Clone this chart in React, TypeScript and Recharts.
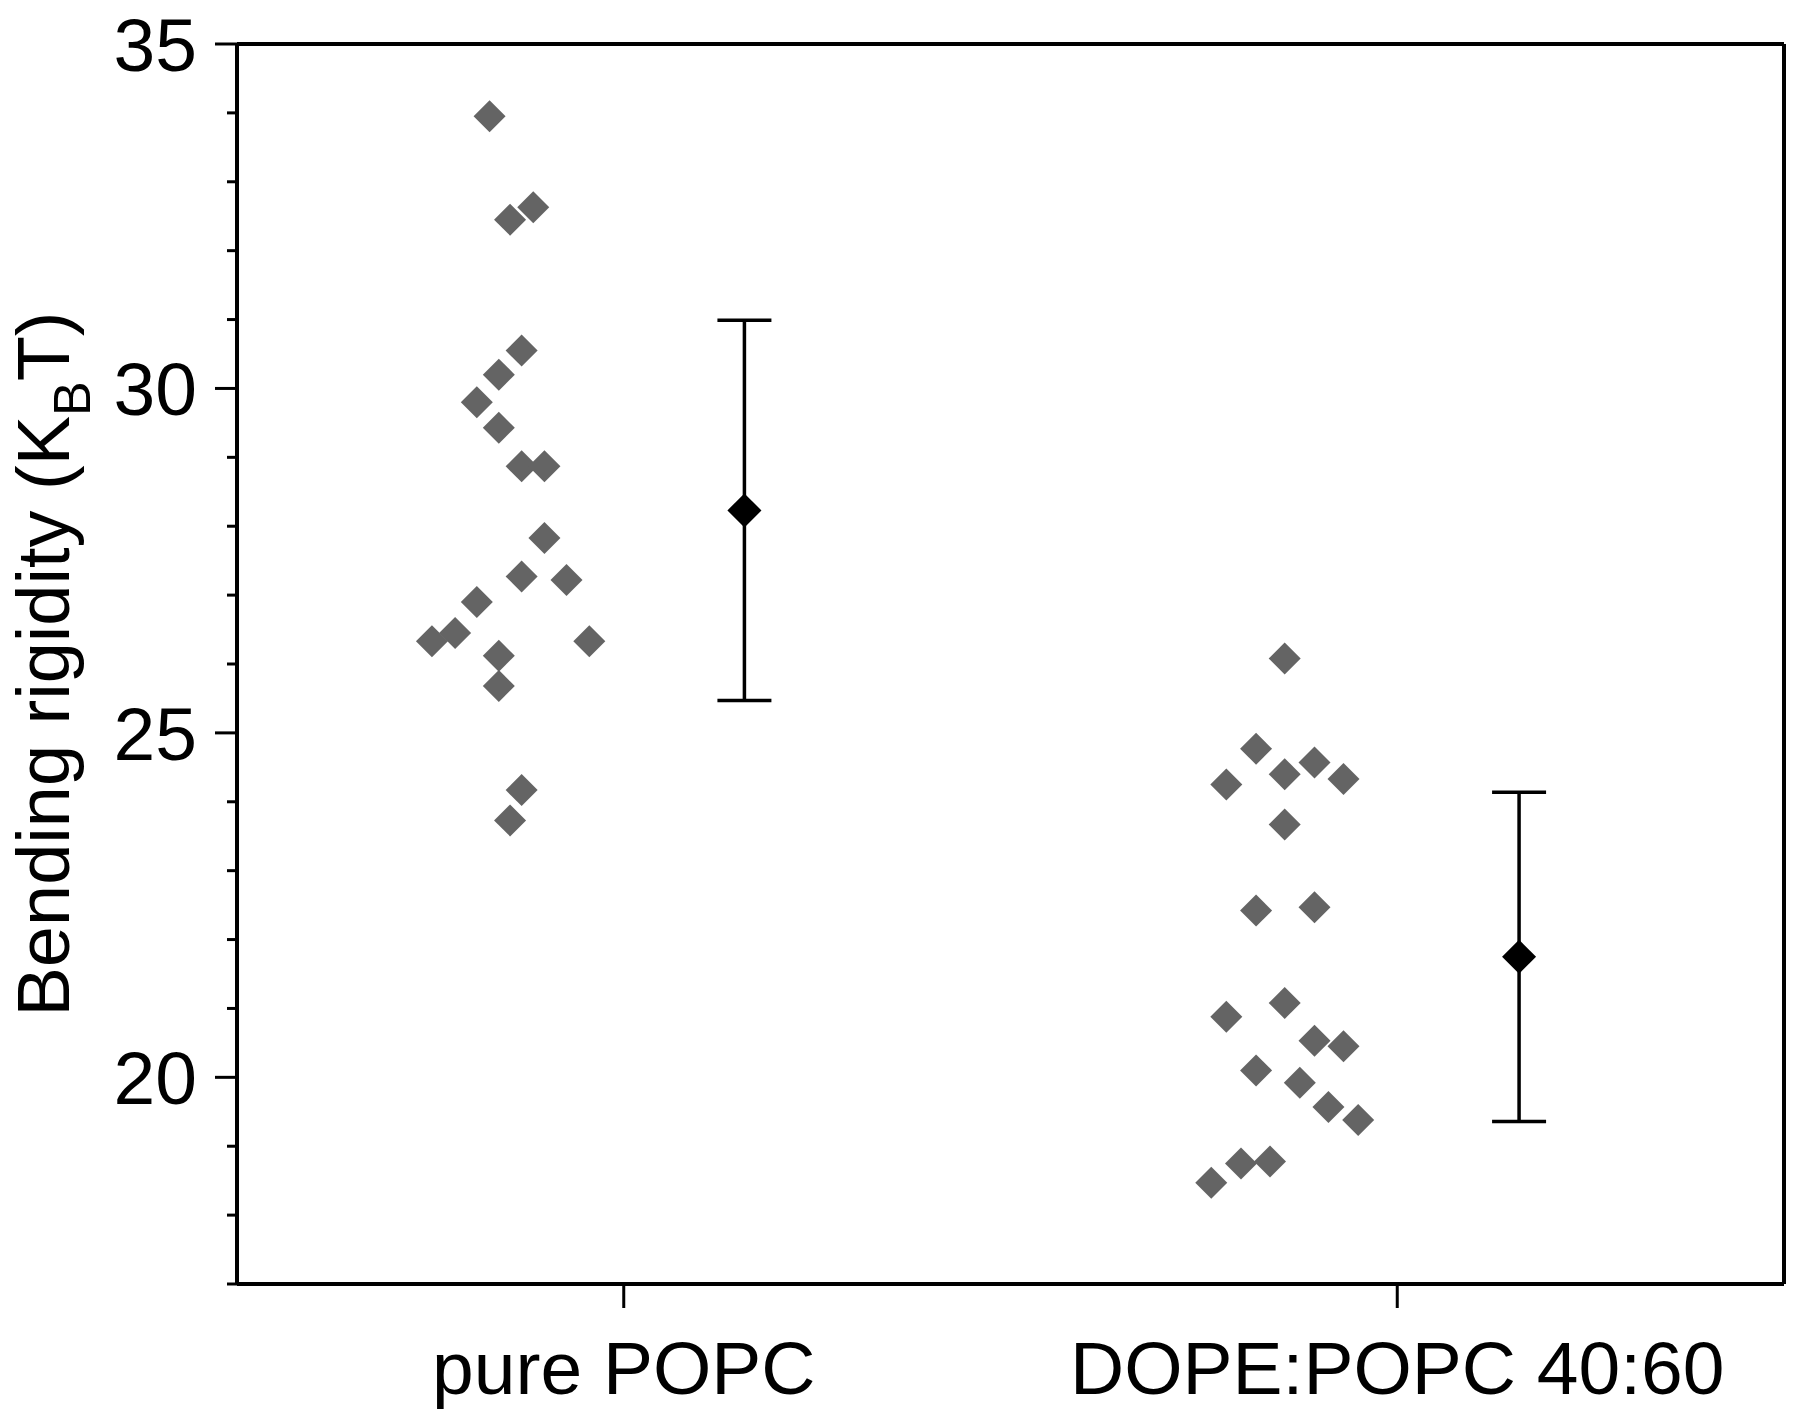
import React from 'react'
import {
  ScatterChart,
  Scatter,
  XAxis,
  YAxis,
  ErrorBar,
  ReferenceLine,
} from 'recharts'

// category ticks on the x axis
const categoryTicks = [1, 3]
const categoryLabels: Record<number, string> = {
  1: 'pure POPC',
  3: 'DOPE:POPC 40:60',
}

const yTicks = [17, 18, 19, 20, 21, 22, 23, 24, 25, 26, 27, 28, 29, 30, 31, 32, 33, 34, 35]

// pure POPC individual vesicles (jittered x)
const popcX = [0.653, 0.706, 0.766, 0.736, 0.677, 0.62, 0.677, 0.736, 0.795, 0.795, 0.736, 0.852, 0.62, 0.504, 0.564, 0.911, 0.677, 0.677, 0.736, 0.706]
const popcY = [33.95, 32.45, 32.63, 30.55, 30.2, 29.8, 29.43, 28.87, 28.87, 27.83, 27.27, 27.22, 26.9, 26.33, 26.45, 26.33, 26.12, 25.68, 24.17, 23.73]

// DOPE:POPC 40:60 individual vesicles
const dopeX = [2.709, 2.635, 2.558, 2.709, 2.786, 2.861, 2.709, 2.635, 2.786, 2.558, 2.709, 2.786, 2.861, 2.635, 2.748, 2.822, 2.899, 2.596, 2.671, 2.519]
const dopeY = [26.08, 24.77, 24.25, 24.4, 24.57, 24.33, 23.67, 22.42, 22.47, 20.88, 21.08, 20.53, 20.45, 20.1, 19.92, 19.57, 19.38, 18.75, 18.78, 18.47]

// mean +/- sd
const meanX = [1.312, 3.315]
const meanY = [28.23, 21.75]
const meanErr = [2.76, 2.39]

const popcData = popcX.map((x, i) => ({ x, y: popcY[i] }))
const dopeData = dopeX.map((x, i) => ({ x, y: dopeY[i] }))
const meanData = meanX.map((x, i) => ({ x, y: meanY[i], err: meanErr[i] }))

const FONT = 'Arial, "Liberation Sans", Helvetica, sans-serif'

const Diamond = (props: any) => {
  const { cx, cy, fill, half } = props
  if (cx == null || cy == null) return null
  return (
    <polygon
      points={`${cx},${cy - half} ${cx + half},${cy} ${cx},${cy + half} ${cx - half},${cy}`}
      fill={fill}
    />
  )
}

const YTick = (props: any) => {
  const { x, y, payload } = props
  const major = payload.value % 5 === 0
  return (
    <g>
      <line x1={x - (major ? 22 : 10)} x2={x} y1={y} y2={y} stroke="#000" strokeWidth={3} />
      {major && (
        <text x={x - 40} y={y} dy="0.355em" textAnchor="end" fontSize={75} fontFamily={FONT} fill="#000">
          {payload.value}
        </text>
      )}
    </g>
  )
}

const YTitle = (props: any) => {
  const vb = props.viewBox || { x: 0, y: 0, width: 0, height: 0 }
  const cx = 69
  const cy = vb.y + vb.height / 2
  return (
    <text
      x={cx}
      y={cy}
      transform={`rotate(-90, ${cx}, ${cy})`}
      textAnchor="middle"
      fontSize={74}
      fontFamily={FONT}
      fill="#000"
    >
      Bending rigidity (K
      <tspan fontSize={52} dy={21}>B</tspan>
      <tspan dy={-21}>T)</tspan>
    </text>
  )
}

export default function App() {
  return (
    <div style={{ margin: -8, width: 1800, height: 1418, background: '#fff' }}>
      <ScatterChart
        width={1800}
        height={1418}
        margin={{ top: 44, right: 16, bottom: 24, left: 0 }}
        style={{ overflow: 'visible' }}
      >
        <XAxis
          type="number"
          dataKey="x"
          domain={[0, 4]}
          ticks={categoryTicks}
          tickFormatter={(v: number) => categoryLabels[v] ?? ''}
          height={110}
          tickSize={24}
          tickMargin={33}
          axisLine={{ stroke: '#000', strokeWidth: 4 }}
          tickLine={{ stroke: '#000', strokeWidth: 3 }}
          tick={{ fontSize: 75, fill: '#000', fontFamily: FONT }}
          interval={0}
        />
        <YAxis
          type="number"
          dataKey="y"
          domain={[17, 35]}
          ticks={yTicks}
          width={237}
          tickSize={0}
          tickMargin={0}
          interval={0}
          axisLine={{ stroke: '#000', strokeWidth: 4 }}
          tickLine={false}
          tick={<YTick />}
          label={{ content: (p: any) => <YTitle {...p} /> }}
        />
        <ReferenceLine y={35} stroke="#000" strokeWidth={4} />
        <ReferenceLine x={4} stroke="#000" strokeWidth={4} />
        <Scatter
          data={popcData}
          fill="#646464"
          isAnimationActive={false}
          shape={(p: any) => <Diamond {...p} half={16} fill="#646464" />}
        />
        <Scatter
          data={dopeData}
          fill="#646464"
          isAnimationActive={false}
          shape={(p: any) => <Diamond {...p} half={16} fill="#646464" />}
        />
        <Scatter
          data={meanData}
          fill="#000"
          isAnimationActive={false}
          shape={(p: any) => <Diamond {...p} half={17} fill="#000" />}
        >
          <ErrorBar dataKey="err" direction="y" width={27} stroke="#000" strokeWidth={3.5} />
        </Scatter>
      </ScatterChart>
    </div>
  )
}
